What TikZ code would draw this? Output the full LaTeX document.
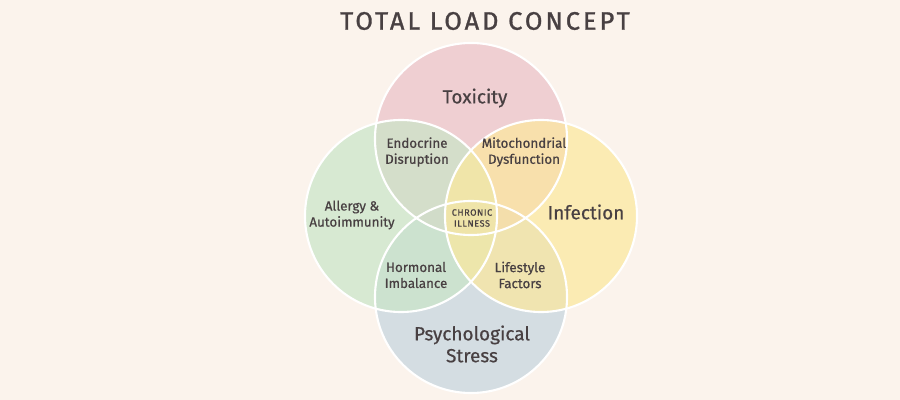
\documentclass[tikz,border=0pt]{standalone}
\usepackage{fontspec}
\setmainfont{Fira Sans}
\newfontfamily\labelfont[FakeBold=0.6]{Fira Sans}
\newfontfamily\titlefont[LetterSpace=12, FakeBold=1.2]{Fira Sans}
\newfontfamily\smallcapsfont[LetterSpace=6, FakeBold=0.4]{Fira Sans}
\usetikzlibrary{positioning}

\definecolor{paper}{RGB}{251,243,236}
\definecolor{ink}{RGB}{72,64,66}
\definecolor{toxpink}{RGB}{235,193,199}
\definecolor{allgreen}{RGB}{201,229,199}
\definecolor{infyellow}{RGB}{252,232,156}
\definecolor{strblue}{RGB}{196,213,222}

\begin{document}
\begin{tikzpicture}[
  x=0.025cm, y=-0.025cm,
  set/.style={circle, minimum size=4.8cm, inner sep=0pt, fill opacity=0.7},
  ring/.style={draw=white, line width=1.5pt},
  lbl/.style={text=ink, align=center, font=\labelfont\fontsize{9.5}{11.4}\selectfont},
  big/.style={text=ink, align=center, font=\labelfont\fontsize{13.5}{15.6}\selectfont}
]
\fill[paper] (0,0) rectangle (900,400);

% the four sets
\node[set, fill=strblue]   (stress)  at (471,297) {};
\node[set, fill=toxpink]   (toxic)   at (471,139) {};
\node[set, fill=allgreen]  (allergy) at (401,216) {};
\node[set, fill=infyellow] (infect)  at (541,216) {};
\foreach \c in {stress,toxic,allergy,infect}
  \draw[ring] (\c.center) circle[radius=2.4cm];

\node[text=ink, font=\titlefont\fontsize{18}{20}\selectfont] (title) at (485,21) {TOTAL LOAD CONCEPT};

\node[big] (toxlbl) at (475,98) {Toxicity};
\node[big] (inflbl) at (586,212) {Infection};
\node[big] (strlbl) at (472,344) {Psychological\\Stress};
\node[lbl] (alllbl) at (352,215) {Allergy \&\\Autoimmunity};
\node[lbl] (endo)   at (417,152) {Endocrine\\Disruption};
\node[lbl] (mito)   at (524,152) {Mitochondrial\\Dysfunction};
\node[lbl] (horm)   at (416,275) {Hormonal\\Imbalance};
\node[lbl] (life)   at (520,275) {Lifestyle\\Factors};
\node[text=ink, align=center, font=\smallcapsfont\fontsize{6.5}{7.8}\selectfont] (chronic) at (472,218) {CHRONIC\\ILLNESS};
\end{tikzpicture}
\end{document}
